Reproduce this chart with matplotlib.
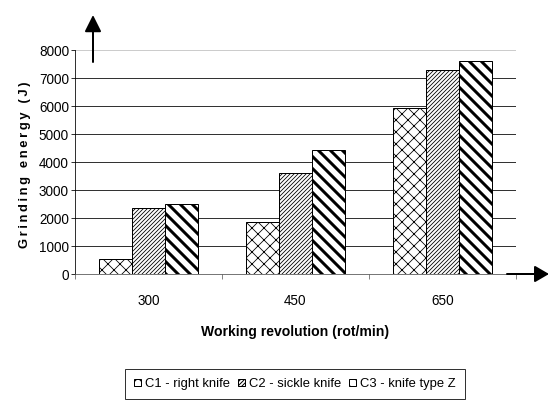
import numpy as np
import matplotlib
matplotlib.use("Agg")
import matplotlib.pyplot as plt

revolutions = ["300", "450", "650"]
c1_right = [520, 1870, 5930]
c2_sickle = [2370, 3610, 7270]
c3_knife_z = [2490, 4440, 7610]
series_names = ["C1 - right knife", "C2 - sickle knife", "C3 - knife type Z"]
yticks = [0, 1000, 2000, 3000, 4000, 5000, 6000, 7000, 8000]

plt.rcParams['font.family'] = ['Liberation Sans', 'DejaVu Sans']

W, H, DPI = 550, 401, 72
fig = plt.figure(figsize=(W / DPI, H / DPI), dpi=DPI)
ax = fig.add_axes([75 / W, 1 - 274 / H, (516 - 75) / W, (274 - 50) / H])

x = np.arange(len(revolutions))
bw = 0.224
styles = [("xx", 0.8), ("//////", 0.8), ("\\\\", 3.0)]
for i, (vals, (hatch, hlw)) in enumerate(zip([c1_right, c2_sickle, c3_knife_z], styles)):
    bars = ax.bar(x + (i - 1) * bw, vals, bw, color="white", edgecolor="black",
                  linewidth=1.0, hatch=hatch, label=series_names[i], zorder=3)
    for b in bars:
        if hasattr(b, "set_hatch_linewidth"):
            b.set_hatch_linewidth(hlw)

ax.set_xlim(-0.5, 2.5)
ax.set_ylim(0, 8000)
ax.set_yticks(yticks)
ax.set_yticklabels([str(v) for v in yticks], fontsize=13.5)
ax.set_xticks(x)
ax.set_xticklabels(revolutions, fontsize=13.5)
ax.set_xticks([-0.5, 0.5, 1.5, 2.5], minor=True)
ax.tick_params(axis="x", which="major", length=0, pad=20)
ax.tick_params(axis="x", which="minor", length=5, color="#333333")
ax.tick_params(axis="y", length=4, pad=2)

ax.yaxis.grid(True, color="#333333", linewidth=1.0, zorder=0)
ax.set_axisbelow(True)
ax.get_ygridlines()[-1].set_color("#cccccc")
for s in ["top", "right"]:
    ax.spines[s].set_visible(False)
ax.spines["left"].set_color("black")
ax.spines["bottom"].set_color("#555555")

ax.set_xlabel("Working revolution (rot/min)", fontsize=14, fontweight="bold", labelpad=17)
fig.text(25 / W, 1 - 165 / H, "\u2009".join("Grinding energy (J)"), rotation=90,
         fontsize=13, fontweight="bold", ha="center", va="center")

# axis arrows
ax.annotate("", xy=(93, H - 15), xytext=(93, H - 62), xycoords="figure pixels",
            textcoords="figure pixels",
            arrowprops=dict(arrowstyle="-|>,head_length=0.7,head_width=0.35",
                            color="black", lw=2, mutation_scale=20, shrinkA=0, shrinkB=0))
ax.annotate("", xy=(549, H - 274), xytext=(507, H - 274), xycoords="figure pixels",
            textcoords="figure pixels", annotation_clip=False,
            arrowprops=dict(arrowstyle="-|>,head_length=0.6,head_width=0.35",
                            color="black", lw=2, mutation_scale=20, shrinkA=0, shrinkB=0))

leg = fig.legend(loc="upper center", bbox_to_anchor=(295 / W, 1 - 369 / H), ncol=3,
                 fontsize=13, frameon=True, fancybox=False, edgecolor="black",
                 handlelength=0.55, handleheight=0.55, handletextpad=0.3,
                 columnspacing=0.6, borderpad=0.7, borderaxespad=0)
leg.get_frame().set_linewidth(1.0)

fig.savefig("out.png", dpi=DPI)
